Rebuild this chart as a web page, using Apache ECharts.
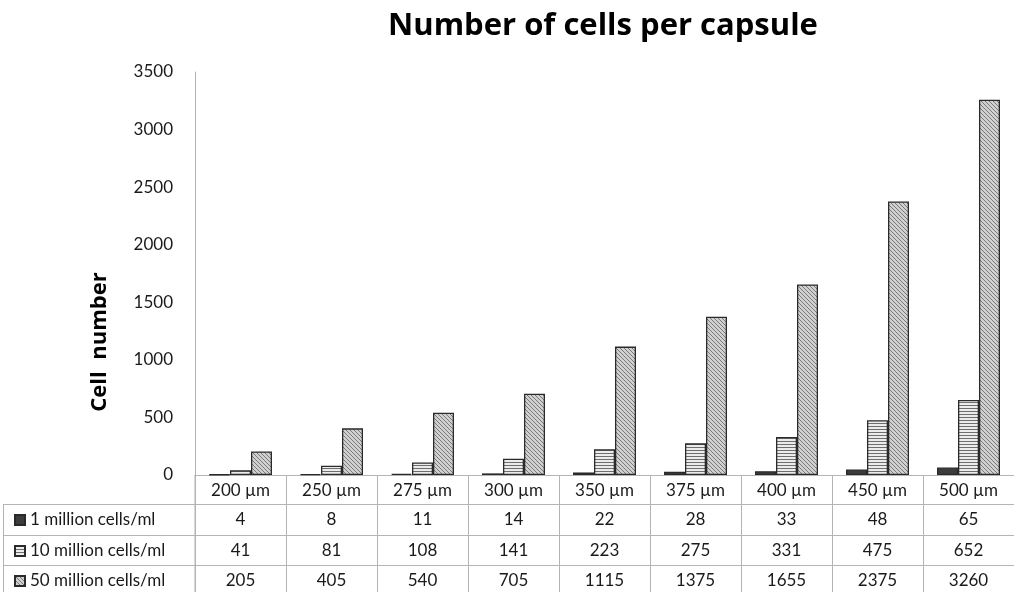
<!DOCTYPE html>
<html>
<head>
<meta charset="utf-8">
<script src="https://cdn.jsdelivr.net/npm/echarts@6/dist/echarts.min.js"></script>
<style>
html,body{margin:0;padding:0;background:#fff;}
#chart{width:1014px;height:592px;}
</style>
</head>
<body>
<div id="chart"></div>
<script>
// ---- data ----
const categories = ['200 µm','250 µm','275 µm','300 µm','350 µm','375 µm','400 µm','450 µm','500 µm'];
const seriesNames = ['1 million cells/ml','10 million cells/ml','50 million cells/ml'];
const oneMillion = [4, 8, 11, 14, 22, 28, 33, 48, 65];
const tenMillion = [41, 81, 108, 141, 223, 275, 331, 475, 652];
const fiftyMillion = [205, 405, 540, 705, 1115, 1375, 1655, 2375, 3260];
const yTicks = {min: 0, max: 3500, interval: 500};
const seriesValues = [oneMillion, tenMillion, fiftyMillion];

// ---- patterns ----
function makeCanvas(w, h, draw){
  const c = document.createElement('canvas');
  c.width = w; c.height = h;
  const ctx = c.getContext('2d');
  draw(ctx);
  return c;
}
const solidDark = '#3c3c3c';
const stripes = makeCanvas(4, 3, ctx => {
  ctx.fillStyle = '#ececec'; ctx.fillRect(0,0,4,3);
  ctx.fillStyle = '#6e6e6e'; ctx.fillRect(0,0,4,1);
});
const hatch = makeCanvas(4, 4, ctx => {
  ctx.fillStyle = '#d0d0d0'; ctx.fillRect(0,0,4,4);
  ctx.fillStyle = '#7a7a7a';
  for (let i=0;i<4;i++) ctx.fillRect(i,i,1,1);
});
const fills = [solidDark, {image: stripes, repeat: 'repeat'}, {image: hatch, repeat: 'repeat'}];

const FONT = 'Lato, "Open Sans", sans-serif';
const TFONT = '"Open Sans", Lato, sans-serif';
const lineColor = '#b4b4b4';
const rowTops = [475, 504, 535, 565];

const chart = echarts.init(document.getElementById('chart'), null, {renderer: 'canvas'});

function tableAxis(idx, labelsFn){
  return {
    type: 'category',
    gridIndex: 0,
    position: 'bottom',
    data: categories,
    offset: rowTops[idx] - rowTops[0],
    axisLine: {show: true, onZero: false, lineStyle: {color: lineColor, width: 1}},
    axisTick: {show: true, interval: 0, length: (idx < 3 ? rowTops[idx+1] - rowTops[idx] : 31), lineStyle: {color: lineColor, width: 1}},
    axisLabel: {show: true, interval: 0, margin: 7, fontFamily: FONT, fontSize: 17, color: '#1a1a1a', formatter: labelsFn},
    splitLine: {show: false}
  };
}

const xAxes = [
  tableAxis(0, (v) => v),
  tableAxis(1, (v, i) => String(oneMillion[i])),
  tableAxis(2, (v, i) => String(tenMillion[i])),
  tableAxis(3, (v, i) => String(fiftyMillion[i]))
];

const legends = seriesNames.map((name, i) => ({
  data: [name],
  left: 14,
  top: rowTops[i+1] + 6,
  padding: 0,
  itemWidth: 10,
  itemHeight: 10,
  selectedMode: false,
  icon: 'rect',
  textStyle: {fontFamily: FONT, fontSize: 17, color: '#1a1a1a', lineHeight: 20}
}));

const series = seriesNames.map((name, i) => ({
  name: name,
  type: 'bar',
  xAxisIndex: 0,
  yAxisIndex: 0,
  data: seriesValues[i],
  barWidth: 21,
  barGap: '0%',
  itemStyle: {color: fills[i], borderColor: '#2a2a2a', borderWidth: 1.3},
  emphasis: {disabled: true},
  animation: false
}));

const option = {
  animation: false,
  backgroundColor: '#ffffff',
  title: {
    text: 'Number of cells per capsule',
    left: 598,
    textAlign: 'center',
    top: 6,
    textStyle: {fontFamily: TFONT, fontWeight: 'bold', fontSize: 31, color: '#000'}
  },
  legend: legends,
  grid: {left: 195, top: 72, width: 832, height: 403, containLabel: false},
  xAxis: xAxes,
  yAxis: {
    type: 'value',
    min: yTicks.min, max: yTicks.max, interval: yTicks.interval,
    axisLine: {show: true, lineStyle: {color: lineColor, width: 1}},
    axisTick: {show: false},
    splitLine: {show: false},
    axisLabel: {margin: 22, fontFamily: FONT, fontSize: 17, color: '#1a1a1a', formatter: (v) => String(v)}
  },
  graphic: [
    {type: 'text', x: 100, y: 342, rotation: Math.PI/2, style: {text: 'Cell  number', x: 0, y: 0, textAlign: 'center', textVerticalAlign: 'middle', font: 'bold 22px ' + TFONT, fill: '#000'}},
    {type: 'line', shape: {x1: 195, y1: 475, x2: 195, y2: 596}, style: {stroke: lineColor, lineWidth: 1}},
    {type: 'line', shape: {x1: 3.5, y1: 504, x2: 3.5, y2: 596}, style: {stroke: lineColor, lineWidth: 1}},
    {type: 'line', shape: {x1: 3, y1: 504.5, x2: 195, y2: 504.5}, style: {stroke: lineColor, lineWidth: 1}},
    {type: 'line', shape: {x1: 3, y1: 535.5, x2: 195, y2: 535.5}, style: {stroke: lineColor, lineWidth: 1}},
    {type: 'line', shape: {x1: 3, y1: 565.5, x2: 195, y2: 565.5}, style: {stroke: lineColor, lineWidth: 1}}
  ],
  series: series
};
chart.setOption(option);
</script>
</body>
</html>
